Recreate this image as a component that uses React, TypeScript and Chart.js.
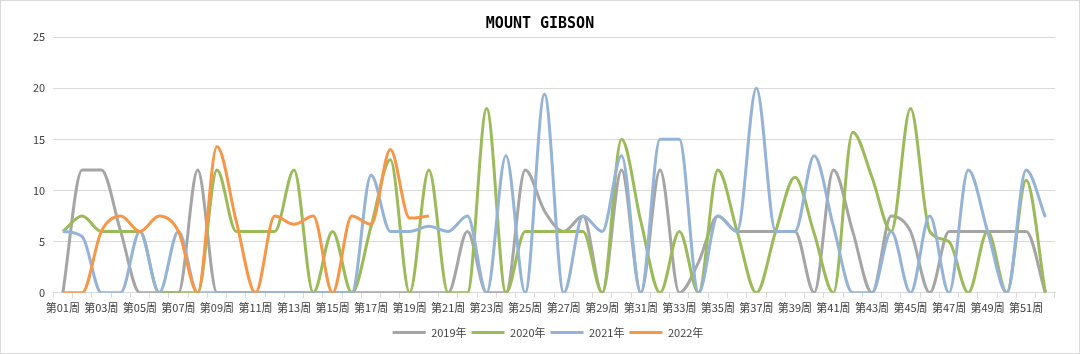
import React, { useEffect, useRef } from 'react';
import { Chart, registerables } from 'chart.js';

Chart.register(...registerables);

const weeks: string[] = Array.from({ length: 52 }, (_, i) => `第${String(i + 1).padStart(2, '0')}周`);

const s2019: (number | null)[] = [
  0, 12, 12, 6, 0, 0, 0, 12, 0, 0,
  0, 0, 0, 0, 0, 0, 0, 0, 0, 0,
  0, 6, 0, 0, 12, 8, 6, 7.5, 0, 12,
  0, 12, 0, 3, 7.5, 6, 6, 6, 6, 0,
  12, 6, 0, 7.5, 6, 0, 6, 6, 6, 6,
  6, 0,
];
const s2020: (number | null)[] = [
  6, 7.5, 6, 6, 6, 0, 0, 0, 12, 6,
  6, 6, 12, 0, 6, 0, 6.5, 13, 0, 12,
  0, 0, 18, 0, 6, 6, 6, 6, 0, 15,
  7, 0, 6, 0, 12, 6, 0, 6, 11.3, 5.8,
  0, 15.7, 11.3, 6, 18, 6, 5, 0, 6, 0,
  11, 0,
];
const s2021: (number | null)[] = [
  6, 5.5, 0, 0, 6, 0, 6, 0, 0, 0,
  0, 0, 0, 0, 0, 0, 11.5, 6, 6, 6.5,
  6, 7.5, 0, 13.4, 0, 19.4, 0, 7.5, 6, 13.4,
  0, 15, 15, 0, 7.5, 6, 20, 6, 6, 13.4,
  6.5, 0, 0, 6, 0, 7.5, 0, 12, 6, 0,
  12, 7.4,
];
const s2022: (number | null)[] = [
  0, 0, 6, 7.5, 6, 7.5, 6, 0, 14.3, 7,
  0, 7.5, 6.7, 7.5, 0, 7.5, 6.7, 14, 7.3, 7.5,
];

const seriesNames = ['2019年', '2020年', '2021年', '2022年'];
const seriesColors = ['#A5A5A5', '#9BBB59', '#95B3D7', '#F79646'];
const yTicks = [0, 5, 10, 15, 20, 25];

const FONT = "'Noto Sans CJK SC', 'Noto Sans', sans-serif";
const TEXT = '#404040';

const legendShift = {
  id: 'legendShift',
  afterLayout(chart: any) {
    const l = chart.legend;
    if (l) {
      l.left += 8;
      l.right += 8;
    }
  },
};

export default function App() {
  const ref = useRef<HTMLCanvasElement | null>(null);

  useEffect(() => {
    document.body.style.margin = '0';
    const canvas = ref.current;
    if (!canvas) return;
    const all = [s2019, s2020, s2021, s2022];
    const chart = new Chart(canvas, {
      type: 'line',
      data: {
        labels: weeks,
        datasets: all.map((d, i) => ({
          label: seriesNames[i],
          data: d,
          borderColor: seriesColors[i],
          backgroundColor: seriesColors[i],
          borderWidth: 3,
          pointRadius: 0,
          pointHoverRadius: 0,
          cubicInterpolationMode: 'monotone',
          fill: false,
          order: 4 - i,
          spanGaps: false,
        })),
      },
      plugins: [legendShift],
      options: {
        animation: false,
        responsive: false,
        maintainAspectRatio: false,
        layout: { padding: { left: 24, right: 24, top: 0, bottom: 5 } },
        plugins: {
          title: {
            display: true,
            text: 'MOUNT GIBSON',
            color: '#000000',
            font: { family: "'DejaVu Sans Mono', monospace", size: 15, weight: 'bold' },
            padding: { top: 14, bottom: 4 },
          },
          legend: {
            position: 'bottom',
            labels: {
              color: TEXT,
              font: { family: FONT, size: 11 },
              boxWidth: 33,
              boxHeight: 3,
              padding: 5,
              generateLabels: (c: any) =>
                c.data.datasets.map((ds: any, i: number) => ({
                  text: ds.label,
                  fillStyle: ds.borderColor,
                  strokeStyle: ds.borderColor,
                  lineWidth: 0,
                  hidden: false,
                  datasetIndex: i,
                  fontColor: TEXT,
                })),
            },
          },
          tooltip: { enabled: false },
        },
        scales: {
          x: {
            type: 'category',
            offset: true,
            afterFit: (scale: any) => {
              scale.height += 5;
            },
            grid: { offset: true, drawOnChartArea: false, drawTicks: true, tickLength: 5, color: '#D9D9D9' },
            border: { display: true, color: '#D9D9D9' },
            ticks: {
              autoSkip: false,
              maxRotation: 0,
              minRotation: 0,
              padding: 3,
              color: TEXT,
              font: { family: FONT, size: 11 },
              callback: (_v: any, i: number) => (i % 2 === 0 ? weeks[i] : ''),
            },
          },
          y: {
            min: 0,
            max: 25,
            afterBuildTicks: (axis: any) => {
              axis.ticks = yTicks.map((v) => ({ value: v }));
            },
            grid: { color: '#D9D9D9', drawTicks: false },
            border: { display: false },
            ticks: {
              padding: 8,
              color: TEXT,
              font: { family: FONT, size: 11 },
            },
          },
        },
      },
    });
    return () => chart.destroy();
  }, []);

  return (
    <div
      style={{
        width: 1080,
        height: 354,
        boxSizing: 'border-box',
        border: '1px solid #D9D9D9',
        background: '#FFFFFF',
        position: 'relative',
      }}
    >
      <canvas ref={ref} width={1078} height={352} style={{ display: 'block', width: 1078, height: 352 }} />
    </div>
  );
}
